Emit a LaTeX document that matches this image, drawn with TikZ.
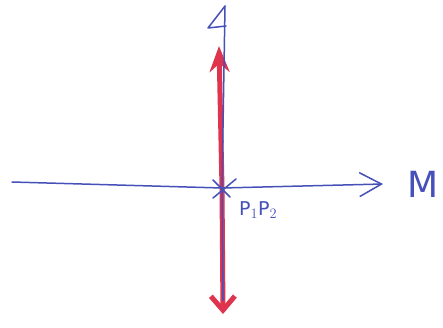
\documentclass[tikz,border=0pt]{standalone}
\usepackage{fontspec}
\setmainfont{DejaVu Sans}
\usetikzlibrary{arrows.meta}
\definecolor{penblue}{RGB}{70,80,185}
\definecolor{penred}{RGB}{222,52,78}
\tikzset{
  blueline/.style={draw=penblue, line width=1.5pt, line cap=round, line join=round},
  redline/.style={draw=penred, line width=5pt, line cap=round, line join=round},
  lbl/.style={text=penblue, inner sep=0pt}
}
\begin{document}
\begin{tikzpicture}[x=1pt,y=-1pt]
\useasboundingbox[fill=white] (0,0) rectangle (443,327);
% coordinates
\coordinate (L) at (12,182);
\coordinate (O) at (222,188);
\coordinate (R) at (383,184);
\coordinate (T) at (225,6);
\coordinate (B) at (223,300);
\coordinate (RT) at (219,46);
\coordinate (RB) at (223,314);
% red double arrow
\draw[redline, -{Stealth[length=26pt,width=20pt]}] (O) -- (RT);
\draw[redline, -{Straight Barb[length=14pt,width=24pt,line width=5pt]}] (O) -- (RB);
% blue vertical axis
\draw[blueline] (B) -- (O) -- (T);
\draw[blueline] (T) -- (208,28) -- (226,26);
% blue horizontal axis
\draw[blueline, -{Straight Barb[length=22pt,width=24pt,line width=1.5pt]}] (L) -- (O) -- (R);
% cross at origin
\draw[blueline] (213,180) -- (230,197);
\draw[blueline] (213,198) -- (236,179);
% labels
\node[lbl, anchor=west, font=\fontsize{19}{21}\selectfont] (p) at (239,210) {P$_1$P$_2$};
\node[lbl, anchor=west, font=\fontsize{36}{38}\selectfont] (m) at (407,184) {M};
\end{tikzpicture}
\end{document}
